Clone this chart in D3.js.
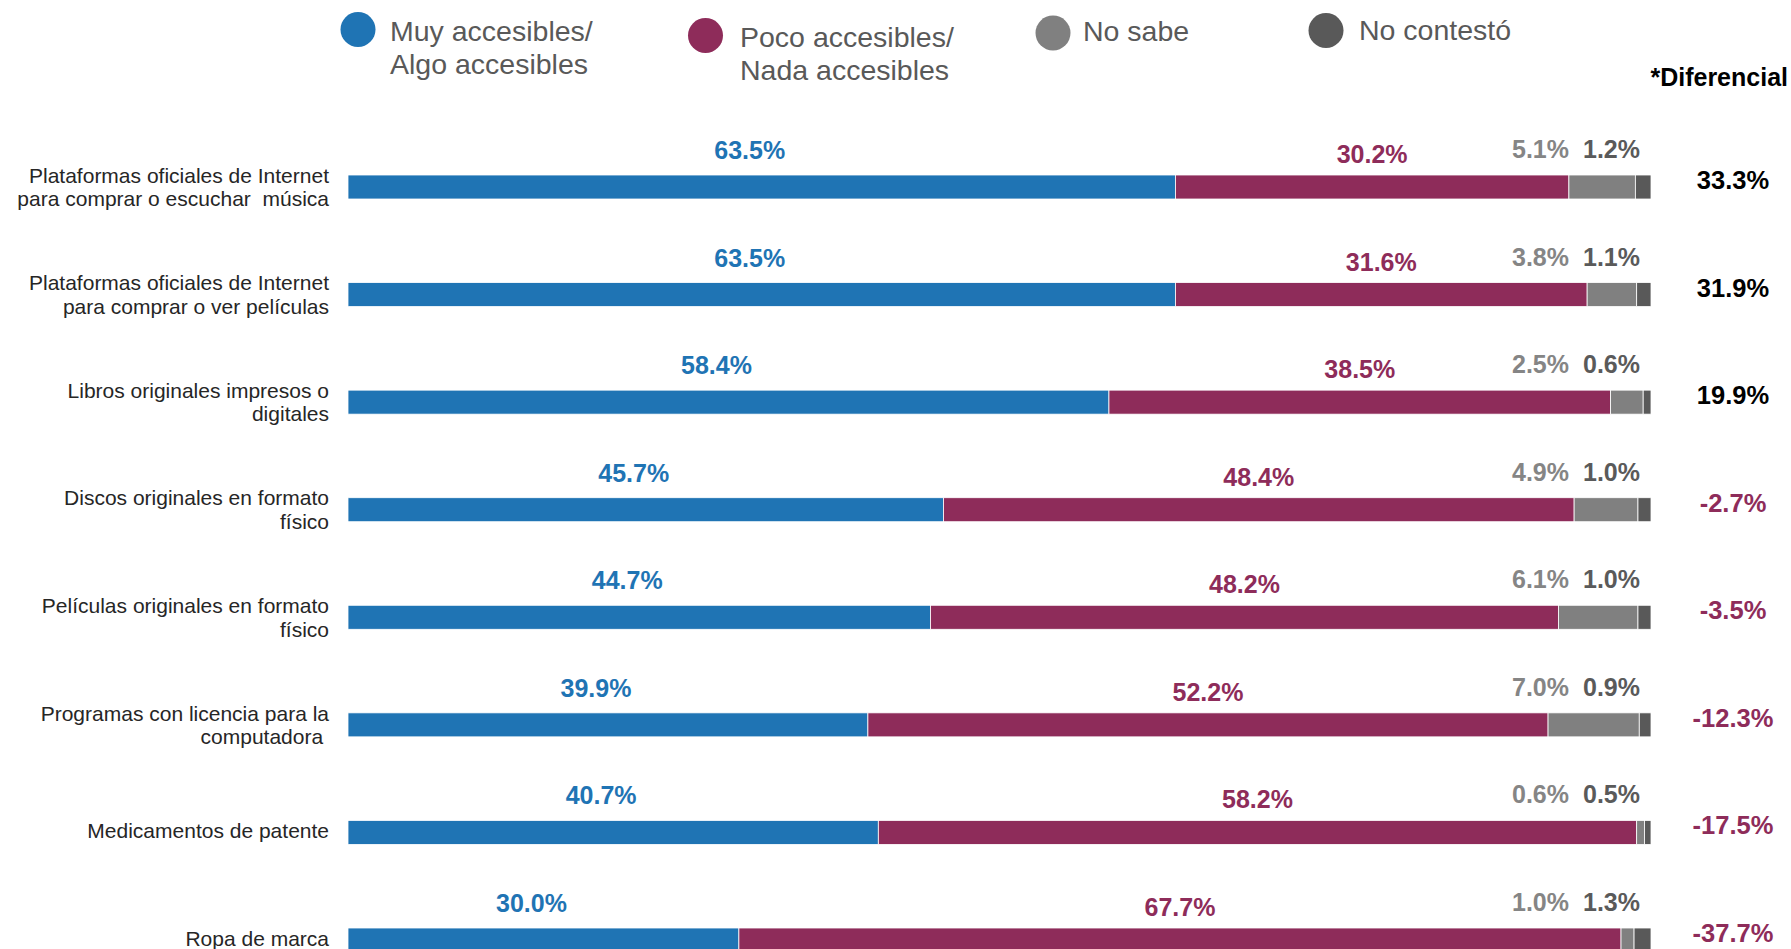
<!DOCTYPE html>
<html lang="es">
<head>
    <meta charset="UTF-8">
    <title>Accesibilidad de productos originales</title>
    <script src="https://d3js.org/d3.v7.min.js"></script>
    <style>
      body { margin: 0; background: #fff; overflow: hidden; }
      svg { display: block; font-family: "Liberation Sans", Arial, sans-serif; }
      .cat tspan { white-space: pre; }
    </style>
</head>
<body>
    <div id="chart"></div>

    <script>
      // data
      var categories = [
        ['Plataformas oficiales de Internet', 'para comprar o escuchar  música'],
        ['Plataformas oficiales de Internet', 'para comprar o ver películas'],
        ['Libros originales impresos o', 'digitales'],
        ['Discos originales en formato', 'físico'],
        ['Películas originales en formato', 'físico'],
        ['Programas con licencia para la', 'computadora '],
        ['Medicamentos de patente'],
        ['Ropa de marca']
      ];
      var accesibles   = [63.5, 63.5, 58.4, 45.7, 44.7, 39.9, 40.7, 30.0];
      var noAccesibles = [30.2, 31.6, 38.5, 48.4, 48.2, 52.2, 58.2, 67.7];
      var noSabe       = [5.1, 3.8, 2.5, 4.9, 6.1, 7.0, 0.6, 1.0];
      var noContesto   = [1.2, 1.1, 0.6, 1.0, 1.0, 0.9, 0.5, 1.3];
      var diferencial  = [33.3, 31.9, 19.9, -2.7, -3.5, -12.3, -17.5, -37.7];

      var seriesNames = [['Muy accesibles/', 'Algo accesibles'], ['Poco accesibles/', 'Nada accesibles'], ['No sabe'], ['No contestó']];
      var colors = ['#1f74b4', '#8e2c5a', '#808080', '#595959'];
      var labelColors = ['#1f74b4', '#8e2c5a', '#858585', '#5a5a5a'];

      var width = 1791, height = 949;
      var barHeight = 24;

      var rows = categories.map(function(c, i) {
        return { idx: i, lines: c, vals: [accesibles[i], noAccesibles[i], noSabe[i], noContesto[i]], dif: diferencial[i] };
      });

      var xScale = d3.scaleLinear()
        .domain([0, 100])
        .range([348, 1651]);

      var yScale = d3.scalePoint()
        .domain(d3.range(categories.length))
        .range([187, 940]);

      // plain hyphen for negatives, like the original
      var fmt = d3.formatLocale({ decimal: '.', thousands: ',', grouping: [3], currency: ['$', ''], minus: '-' }).format('.1f');

      var svg = d3.select('#chart').append('svg')
        .attr('width', width)
        .attr('height', height);

      // legend
      var legendPos = [
        { cx: 358, cy: 29.5, tx: 390, ty: 41 },
        { cx: 705.5, cy: 35.5, tx: 740, ty: 47 },
        { cx: 1053, cy: 33, tx: 1083, ty: 41 },
        { cx: 1326, cy: 30.5, tx: 1359, ty: 40 }
      ];
      var legend = svg.append('g').selectAll('g').data(seriesNames).enter().append('g');
      legend.append('circle')
        .attr('cx', function(d, i) { return legendPos[i].cx; })
        .attr('cy', function(d, i) { return legendPos[i].cy; })
        .attr('r', 17.5)
        .attr('fill', function(d, i) { return colors[i]; });
      legend.append('text')
        .attr('x', function(d, i) { return legendPos[i].tx; })
        .attr('y', function(d, i) { return legendPos[i].ty; })
        .attr('font-size', 28.5)
        .attr('fill', '#595959')
        .selectAll('tspan').data(function(d) { return d; }).enter().append('tspan')
        .attr('x', function() { return d3.select(this.parentNode).attr('x'); })
        .attr('dy', function(d, j) { return j === 0 ? 0 : 33; })
        .text(function(d) { return d; });

      svg.append('text')
        .attr('x', 1788)
        .attr('y', 86)
        .attr('text-anchor', 'end')
        .attr('font-size', 25)
        .attr('font-weight', 'bold')
        .attr('fill', '#000')
        .text('*Diferencial');

      var row = svg.append('g').selectAll('g.row').data(rows).enter().append('g')
        .attr('class', 'row');

      // category labels, block centred on the bar
      row.append('text')
        .attr('class', 'cat')
        .attr('text-anchor', 'end')
        .attr('font-size', 21)
        .attr('fill', '#262626')
        .each(function(d) {
          var cy = yScale(d.idx);
          var lh = 23.5;
          var first = d.lines.length > 1 ? cy + 7.5 - lh / 2 : cy + 5.5;
          d3.select(this).selectAll('tspan').data(d.lines).enter().append('tspan')
            .attr('x', 329)
            .attr('y', function(t, j) { return first + j * lh; })
            .text(function(t) { return t; });
        });

      // stacked segments
      row.selectAll('rect').data(function(d) {
        var acc = 0;
        return d.vals.map(function(v, k) {
          var s = { row: d.idx, k: k, x0: acc, x1: acc + v, v: v };
          acc += v;
          return s;
        });
      }).enter().append('rect')
        .attr('x', function(s) { return xScale(s.x0); })
        .attr('width', function(s) { return xScale(s.x1) - xScale(s.x0); })
        .attr('y', function(s) { return yScale(s.row) - barHeight / 2; })
        .attr('height', barHeight)
        .attr('fill', function(s) { return colors[s.k]; })
        .attr('stroke', '#fff')
        .attr('stroke-width', 0.8);

      // value labels above the bar
      row.each(function(d) {
        var g = d3.select(this);
        var top = yScale(d.idx) - barHeight / 2;
        var end0 = d.vals[0], end1 = d.vals[0] + d.vals[1];
        var labels = [
          { x: (xScale(0) + xScale(end0)) / 2 - 12, y: top - 16, anchor: 'middle', v: d.vals[0], k: 0 },
          { x: (xScale(end0) + xScale(end1)) / 2, y: top - 12, anchor: 'middle', v: d.vals[1], k: 1 },
          { x: xScale(100) - 82, y: top - 17, anchor: 'end', v: d.vals[2], k: 2 },
          { x: xScale(100) - 11, y: top - 17, anchor: 'end', v: d.vals[3], k: 3 }
        ];
        g.selectAll('text.val').data(labels).enter().append('text')
          .attr('class', 'val')
          .attr('x', function(l) { return l.x; })
          .attr('y', function(l) { return l.y; })
          .attr('text-anchor', function(l) { return l.anchor; })
          .attr('font-size', 25)
          .attr('font-weight', 'bold')
          .attr('fill', function(l) { return labelColors[l.k]; })
          .text(function(l) { return fmt(l.v) + '%'; });
      });

      // diferencial column
      row.append('text')
        .attr('x', 1733)
        .attr('y', function(d) { return yScale(d.idx) + 2; })
        .attr('text-anchor', 'middle')
        .attr('font-size', 25.5)
        .attr('font-weight', 'bold')
        .attr('fill', function(d) { return d.dif < 0 ? '#8e2c5a' : '#000'; })
        .text(function(d) { return fmt(d.dif) + '%'; });
    </script>
</body>
</html>
